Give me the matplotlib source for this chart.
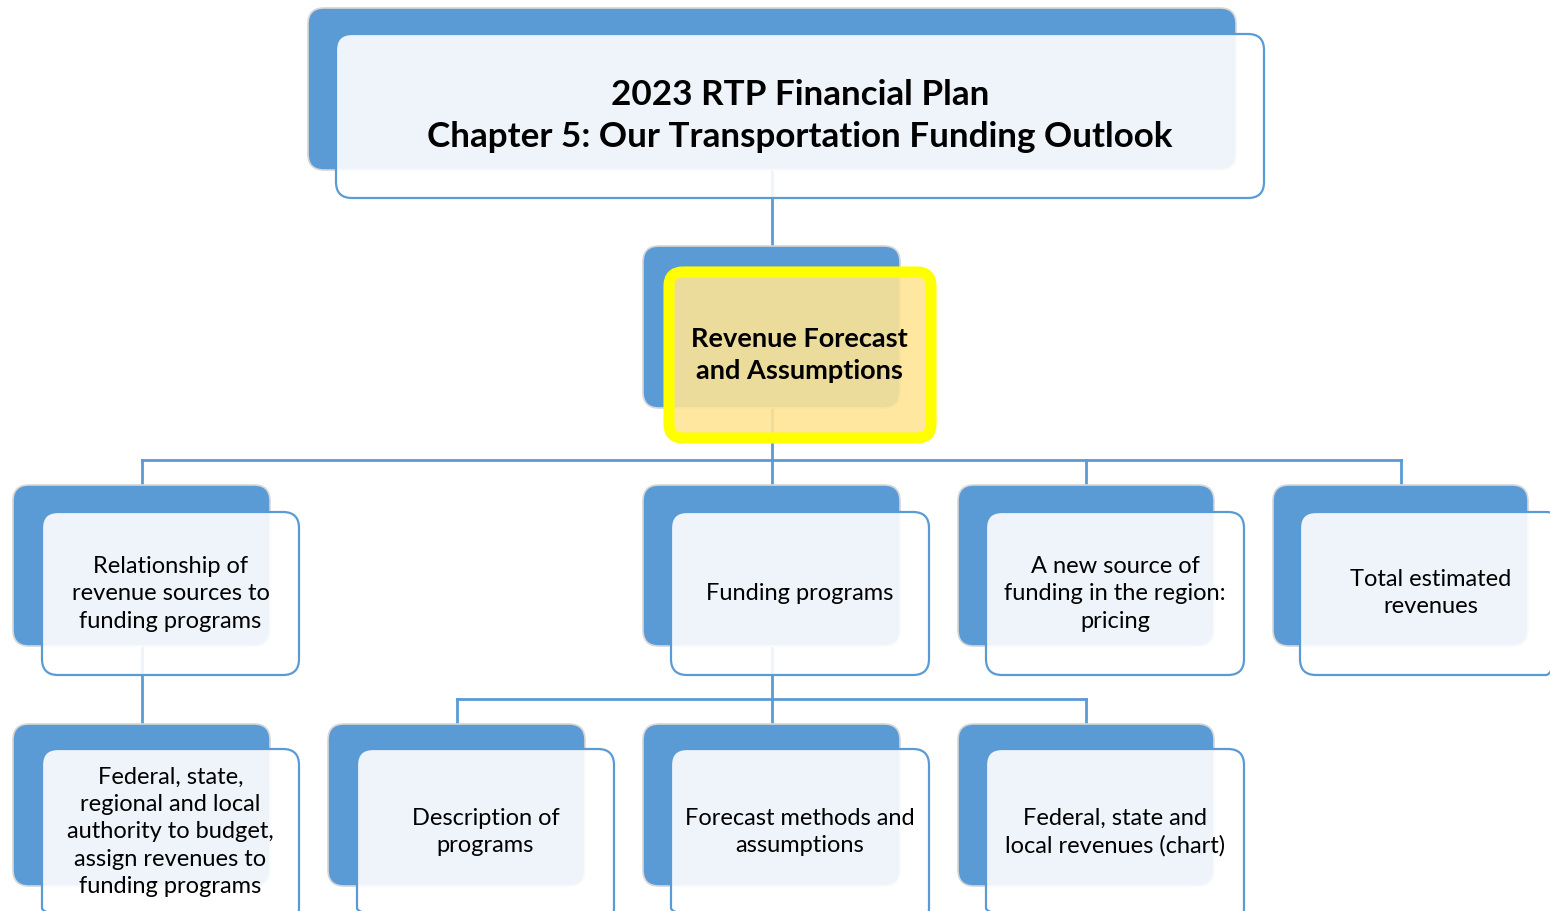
import matplotlib
matplotlib.use("Agg")
import matplotlib.pyplot as plt
from matplotlib.patches import FancyBboxPatch

# ---- data: the hierarchy ----
labels = [
    "2023 RTP Financial Plan\nChapter 5: Our Transportation Funding Outlook",
    "Revenue Forecast\nand Assumptions",
    "Relationship of\nrevenue sources to\nfunding programs",
    "Funding programs",
    "A new source of\nfunding in the region:\npricing",
    "Total estimated\nrevenues",
    "Federal, state,\nregional and local\nauthority to budget,\nassign revenues to\nfunding programs",
    "Description of\nprograms",
    "Forecast methods and\nassumptions",
    "Federal, state and\nlocal revenues (chart)",
]
parents = [None, 0, 1, 1, 1, 1, 2, 3, 3, 3]
highlighted = [False, True, False, False, False, False, False, False, False, False]

# ---- layout (pixels) ----
# back box: (left, top, width, height)
back = [
    (308, 8, 928, 162),
    (643, 246, 257, 162),
    (13, 485, 257, 161),
    (643, 485, 257, 161),
    (958, 485, 256, 161),
    (1273, 485, 255, 161),
    (13, 724, 257, 162),
    (328, 724, 257, 162),
    (643, 724, 257, 162),
    (958, 724, 256, 162),
]
# front box: (left, top, width, height)
front = [
    (336, 34, 928, 164),
    (669, 272, 262, 166),
    (42, 512, 257, 163),
    (671, 512, 258, 163),
    (986, 512, 258, 163),
    (1300, 512, 262, 163),
    (42, 749, 257, 175),
    (357, 749, 257, 175),
    (671, 749, 258, 175),
    (986, 749, 258, 175),
]
text_cy = [116, 355, 594, 594, 594, 593, 832, 832, 832, 832]

BLUE = "#5B9BD5"
LINE = "#5B9BD5"

fig = plt.figure(figsize=(15.5, 9.11), dpi=100)
ax = fig.add_axes([0, 0, 1, 1])
ax.set_xlim(0, 1550)
ax.set_ylim(911, 0)
ax.axis("off")

plt.rcParams['font.family'] = ['Lato', 'DejaVu Sans']

# connectors
children = {}
for i, p in enumerate(parents):
    if p is not None:
        children.setdefault(p, []).append(i)
for p, ch in children.items():
    px = back[p][0] + back[p][2] / 2
    pb = back[p][1] + back[p][3]
    ctop = min(back[c][1] for c in ch)
    bus = ctop - 25
    cxs = [back[c][0] + back[c][2] / 2 for c in ch]
    if len(ch) == 1 and abs(cxs[0] - px) < 3:
        ax.plot([cxs[0], cxs[0]], [pb, ctop], color=LINE, lw=2, zorder=1)
        continue
    ax.plot([px, px], [pb, bus], color=LINE, lw=2, zorder=1)
    ax.plot([min(cxs + [px]), max(cxs + [px])], [bus, bus], color=LINE, lw=2, zorder=1)
    for cx in cxs:
        ax.plot([cx, cx], [bus, ctop], color=LINE, lw=2, zorder=1)

for i, lab in enumerate(labels):
    x, y, w, h = back[i]
    ax.add_patch(FancyBboxPatch((x, y), w, h,
                                boxstyle="round,pad=0,rounding_size=16",
                                fc=BLUE, ec="#D6D6D6", lw=1.2, zorder=2))
    fx, fy, fw, fh = front[i]
    if highlighted[i]:
        ax.add_patch(FancyBboxPatch((fx, fy), fw, fh,
                                    boxstyle="round,pad=0,rounding_size=14",
                                    fc="#FFE594", alpha=0.89, ec="none", zorder=3))
        ax.add_patch(FancyBboxPatch((fx, fy), fw, fh,
                                    boxstyle="round,pad=0,rounding_size=14",
                                    fc="none", ec="#FFFF00", lw=8, zorder=4))
        ax.text(fx + fw / 2 - 1, text_cy[i], lab, ha="center", va="center",
                fontsize=19.5, fontweight="bold", color="black",
                linespacing=1.36, zorder=5)
    else:
        ax.add_patch(FancyBboxPatch((fx, fy), fw, fh,
                                    boxstyle="round,pad=0,rounding_size=16",
                                    fc="white", alpha=0.9, ec="none", zorder=3))
        ax.add_patch(FancyBboxPatch((fx, fy), fw, fh,
                                    boxstyle="round,pad=0,rounding_size=16",
                                    fc="none", ec=BLUE, lw=1.6, zorder=4))
        if i == 0:
            ax.text(fx + fw / 2, text_cy[i], lab, ha="center", va="center",
                    fontsize=25.2, fontweight="bold", color="black",
                    linespacing=1.36, zorder=5)
        else:
            ax.text(fx + fw / 2, text_cy[i], lab, ha="center", va="center",
                    fontsize=17, color="black", linespacing=1.38, zorder=5)

fig.savefig("out.png", dpi=100)
